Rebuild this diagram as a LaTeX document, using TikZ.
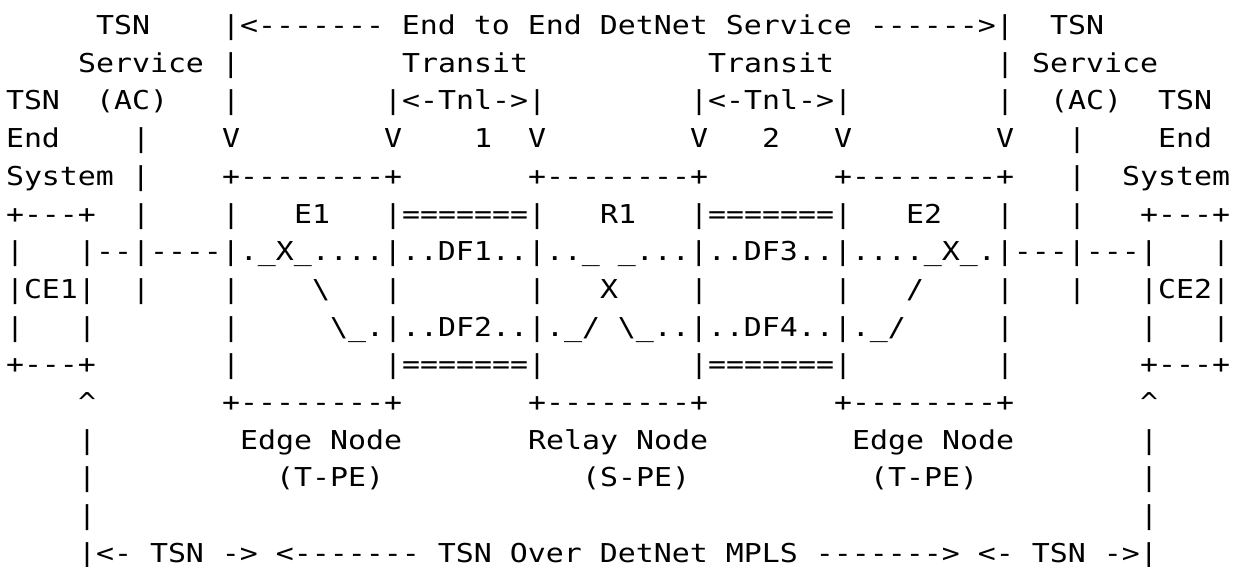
\documentclass[tikz,border=0pt]{standalone}
\usepackage{fontspec}
\newfontfamily\ascfont[FakeStretch=1.15,Ligatures=TeXOff]{DejaVu Sans Mono}
\tikzset{asc/.style={font=\ascfont\fontsize{26pt}{30pt}\selectfont, inner sep=0pt, outer sep=0pt, anchor=base west, text=black}}
\newcommand\fr[4]{\node[asc] (#1) at ({6pt+18pt*#2},{-34.5pt-37.7pt*#3}) {#4};}
\begin{document}
\begin{tikzpicture}
\fill[white] (0,0) rectangle (1244pt,-567pt);
\useasboundingbox (0,0) rectangle (1244pt,-567pt);
% row 0
\fr{r0a}{5}{0}{TSN}
\fr{r0b}{12}{0}{|<------- End to End DetNet Service ------>|}
\fr{r0c}{58}{0}{TSN}
% row 1
\fr{r1a}{4}{1}{Service |}
\fr{r1b}{22}{1}{Transit}
\fr{r1c}{39}{1}{Transit}
\fr{r1d}{55}{1}{| Service}
% row 2
\fr{r2a}{0}{2}{TSN}
\fr{r2b}{5}{2}{(AC)}
\fr{r2c}{12}{2}{|}
\fr{r2d}{21}{2}{|<-Tnl->|}
\fr{r2e}{38}{2}{|<-Tnl->|}
\fr{r2f}{55}{2}{|}
\fr{r2g}{58}{2}{(AC)}
\fr{r2h}{64}{2}{TSN}
% row 3
\fr{r3a}{0}{3}{End}
\fr{r3b}{7}{3}{|}
\fr{r3c}{12}{3}{V}
\fr{r3d}{21}{3}{V}
\fr{r3e}{26}{3}{1}
\fr{r3f}{29}{3}{V}
\fr{r3g}{38}{3}{V}
\fr{r3h}{42}{3}{2}
\fr{r3i}{46}{3}{V}
\fr{r3j}{55}{3}{V}
\fr{r3k}{59}{3}{|}
\fr{r3l}{64}{3}{End}
% row 4
\fr{r4a}{0}{4}{System |}
\fr{r4b}{12}{4}{+--------+}
\fr{r4c}{29}{4}{+--------+}
\fr{r4d}{46}{4}{+--------+}
\fr{r4e}{59}{4}{|}
\fr{r4f}{62}{4}{System}
% row 5
\fr{r5a}{0}{5}{+---+}
\fr{r5b}{7}{5}{|}
\fr{r5c}{12}{5}{|}
\fr{r5d}{16}{5}{E1}
\fr{r5e}{21}{5}{|=======|}
\fr{r5f}{33}{5}{R1}
\fr{r5g}{38}{5}{|=======|}
\fr{r5h}{50}{5}{E2}
\fr{r5i}{55}{5}{|}
\fr{r5j}{59}{5}{|}
\fr{r5k}{63}{5}{+---+}
% row 6
\fr{r6a}{0}{6}{|}
\fr{r6b}{4}{6}{|--|----|.\_X\_....|..DF1..|..\_ \_...|..DF3..|....\_X\_.|---|---|}
\fr{r6c}{67}{6}{|}
% row 7
\fr{r7a}{0}{7}{|CE1|}
\fr{r7b}{7}{7}{|}
\fr{r7c}{12}{7}{|}
\fr{r7d}{17}{7}{\textbackslash}
\fr{r7e}{21}{7}{|}
\fr{r7f}{29}{7}{|}
\fr{r7g}{33}{7}{X}
\fr{r7h}{38}{7}{|}
\fr{r7i}{46}{7}{|}
\fr{r7j}{50}{7}{/}
\fr{r7k}{55}{7}{|}
\fr{r7l}{59}{7}{|}
\fr{r7m}{63}{7}{|CE2|}
% row 8
\fr{r8a}{0}{8}{|}
\fr{r8b}{4}{8}{|}
\fr{r8c}{12}{8}{|}
\fr{r8d}{18}{8}{\textbackslash\_.|..DF2..|.\_/ \textbackslash\_..|..DF4..|.\_/}
\fr{r8e}{55}{8}{|}
\fr{r8f}{63}{8}{|}
\fr{r8g}{67}{8}{|}
% row 9
\fr{r9a}{0}{9}{+---+}
\fr{r9b}{12}{9}{|}
\fr{r9c}{21}{9}{|=======|}
\fr{r9d}{38}{9}{|=======|}
\fr{r9e}{55}{9}{|}
\fr{r9f}{63}{9}{+---+}
% row 10
\fr{r10a}{4}{10}{\textasciicircum}
\fr{r10b}{12}{10}{+--------+}
\fr{r10c}{29}{10}{+--------+}
\fr{r10d}{46}{10}{+--------+}
\fr{r10e}{63}{10}{\textasciicircum}
% row 11
\fr{r11a}{4}{11}{|}
\fr{r11b}{13}{11}{Edge Node}
\fr{r11c}{29}{11}{Relay Node}
\fr{r11d}{47}{11}{Edge Node}
\fr{r11e}{63}{11}{|}
% row 12
\fr{r12a}{4}{12}{|}
\fr{r12b}{15}{12}{(T-PE)}
\fr{r12c}{32}{12}{(S-PE)}
\fr{r12d}{48}{12}{(T-PE)}
\fr{r12e}{63}{12}{|}
% row 13
\fr{r13a}{4}{13}{|}
\fr{r13b}{63}{13}{|}
% row 14
\fr{r14a}{4}{14}{|<- TSN -> <------- TSN Over DetNet MPLS -------> <- TSN ->|}
\end{tikzpicture}
\end{document}
